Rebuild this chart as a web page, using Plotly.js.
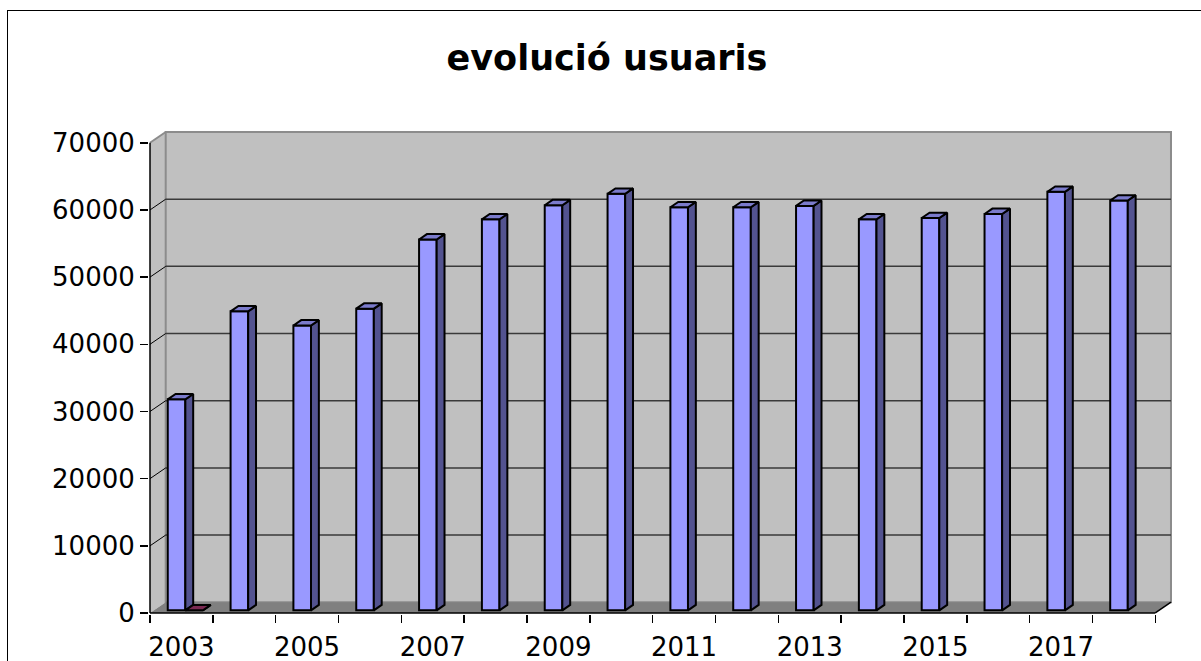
<!DOCTYPE html>
<html>
<head>
<meta charset="utf-8">
<script src="https://cdn.plot.ly/plotly-3.0.1.min.js"></script>
<style>
  html, body { margin: 0; padding: 0; background: #ffffff; overflow: hidden; }
  #wrap { position: relative; width: 1201px; height: 661px; overflow: hidden; }
  #chart { position: absolute; left: 0; top: 0; width: 1201px; height: 661px; }
  #frame { position: absolute; left: 7px; top: 10px; width: 1300px; height: 800px;
           border-left: 1.5px solid #000; border-top: 1.5px solid #000; pointer-events: none; }
</style>
</head>
<body>
<div id="wrap">
  <div id="chart"></div>
  <div id="frame"></div>
</div>
<script>
// ---- data ----
const years = ['2003','2004','2005','2006','2007','2008','2009','2010','2011','2012','2013','2014','2015','2016','2017','2018'];
const usuaris = [31400, 44500, 42400, 44900, 55200, 58200, 60300, 62000, 60000, 60000, 60200, 58200, 58400, 59000, 62300, 61000];
const serie2 = [0, null, null, null, null, null, null, null, null, null, null, null, null, null, null, null];
const yTickValues = [0, 10000, 20000, 30000, 40000, 50000, 60000, 70000];
const yTickLabels = ['0', '10000', '20000', '30000', '40000', '50000', '60000', '70000'];
const xTickLabels = ['2003', '2005', '2007', '2009', '2011', '2013', '2015', '2017'];

// ---- 3D look geometry (in axis units) ----
const DX = 0.25;      // wall depth, category units
const DY = 1600;      // wall depth, value units
const F0 = 0.25;      // bar front depth fraction
const F1 = 0.75;      // bar back depth fraction
const BARW = 0.28;    // bar width per series
const YMAX = 70000;
const nCat = years.length;
const xIdx = years.map((_, i) => i);
const xShift = xIdx.map(i => i + F0 * DX);
const baseVal = F0 * DY;
const bdx = (F1 - F0) * DX, bdy = (F1 - F0) * DY;

const xL = -0.5, xR = nCat - 0.5;

// ---- walls / floor / grid as shapes ----
const shapes = [];
const wallGrey = '#C0C0C0', floorGrey = '#808080', edgeGrey = '#8C8C8C';
shapes.push({type:'path', layer:'below', xref:'x', yref:'y',
  path:`M ${xL},0 L ${xL+DX},${DY} L ${xL+DX},${YMAX+DY} L ${xL},${YMAX} Z`,
  fillcolor: wallGrey, line:{width:0}});
shapes.push({type:'rect', layer:'below', xref:'x', yref:'y',
  x0: xL+DX, x1: xR+DX, y0: DY, y1: YMAX+DY,
  fillcolor: wallGrey, line:{color: edgeGrey, width: 2}});
shapes.push({type:'path', layer:'below', xref:'x', yref:'y',
  path:`M ${xL},0 L ${xR},0 L ${xR+DX},${DY} L ${xL+DX},${DY} Z`,
  fillcolor: floorGrey, line:{width:0}});
shapes.push({type:'line', layer:'below', xref:'x', yref:'y',
  x0: xL, y0: YMAX, x1: xL+DX, y1: YMAX+DY, line:{color: edgeGrey, width: 2}});
yTickValues.forEach(v => {
  if (v === 0 || v === YMAX) return;
  shapes.push({type:'line', layer:'below', xref:'x', yref:'y',
    x0: xL+DX, y0: v+DY, x1: xR+DX, y1: v+DY, line:{color:'#3a3a3a', width:1.5}});
  shapes.push({type:'line', layer:'below', xref:'x', yref:'y',
    x0: xL, y0: v, x1: xL+DX, y1: v+DY, line:{color:'#000000', width:1}});
});
shapes.push({type:'line', layer:'below', xref:'x', yref:'y',
  x0: xL, y0: 0, x1: xL, y1: YMAX, line:{color:'#000', width:1.5}});
shapes.push({type:'line', layer:'below', xref:'x', yref:'y',
  x0: xL, y0: 0, x1: xR, y1: 0, line:{color:'#000', width:1.5}});
shapes.push({type:'line', layer:'below', xref:'x', yref:'y',
  x0: xR, y0: 0, x1: xR+DX, y1: DY, line:{color:'#000', width:1.5}});

// ---- bar faces built from the data ----
function faces(values, offset) {
  const top = {x: [], y: []}, side = {x: [], y: []};
  values.forEach((v, i) => {
    if (v === null || v === undefined) return;
    const xl = i + F0 * DX + offset - BARW / 2, xr = xl + BARW;
    const yb = baseVal, yt = baseVal + v;
    top.x.push(xl, xr, xr + bdx, xl + bdx, xl, null);
    top.y.push(yt, yt, yt + bdy, yt + bdy, yt, null);
    side.x.push(xr, xr + bdx, xr + bdx, xr, xr, null);
    side.y.push(yb, yb + bdy, yt + bdy, yt, yb, null);
  });
  return {top, side};
}
const fA = faces(usuaris, -BARW / 2);
const fB = faces(serie2, BARW / 2);

const outline = {color:'#000', width:2};
const traces = [
  {type:'bar', x: xShift, y: usuaris, base: baseVal, name:'usuaris',
   marker:{color:'#9999FF', line: outline}, hoverinfo:'skip'},
  {type:'bar', x: xShift, y: serie2, base: baseVal, name:'serie 2',
   marker:{color:'#993366', line: outline}, hoverinfo:'skip'},
  {type:'scatter', mode:'lines', x: fA.side.x, y: fA.side.y, fill:'toself',
   fillcolor:'#535390', line: outline, hoverinfo:'skip'},
  {type:'scatter', mode:'lines', x: fA.top.x, y: fA.top.y, fill:'toself',
   fillcolor:'#7B7BCC', line: outline, hoverinfo:'skip'},
  {type:'scatter', mode:'lines', x: fB.side.x, y: fB.side.y, fill:'toself',
   fillcolor:'#5C1F3D', line: outline, hoverinfo:'skip'},
  {type:'scatter', mode:'lines', x: fB.top.x, y: fB.top.y, fill:'toself',
   fillcolor:'#7A2952', line: outline, hoverinfo:'skip'}
];

const boundaries = [];
for (let i = 0; i <= nCat; i++) boundaries.push(i - 0.5);
const xTickVals = xTickLabels.map(t => years.indexOf(t));

const layout = {
  width: 1201, height: 661,
  margin: {l: 149, r: 28, t: 130, b: 47},
  paper_bgcolor: 'rgba(0,0,0,0)', plot_bgcolor: 'rgba(0,0,0,0)',
  showlegend: false,
  barmode: 'group', bargap: 0.44, bargroupgap: 0,
  font: {family: 'DejaVu Sans', color: '#000'},
  title: {text: 'evolució usuaris', font: {family: 'DejaVu Sans', size: 35, weight: 'bold', color: '#000'},
          xref: 'container', x: 607 / 1201, xanchor: 'center',
          yref: 'container', y: 1 - 57.5 / 661, yanchor: 'middle'},
  xaxis: {range: [-0.5159, 15.782], showgrid: false, zeroline: false, showline: false,
          tickmode: 'array', tickvals: xTickVals, ticktext: xTickLabels, ticks: '',
          ticklabelstandoff: 15,
          tickfont: {family: 'DejaVu Sans', size: 26, color: '#000'},
          minor: {tickmode: 'array', tickvals: boundaries, ticks: 'outside', ticklen: 8,
                  tickwidth: 1.5, tickcolor: '#000', showgrid: false},
          fixedrange: true},
  yaxis: {range: [-150, 71900], showgrid: false, zeroline: false, showline: false,
          tickmode: 'array', tickvals: yTickValues, ticktext: yTickLabels,
          ticks: 'outside', ticklen: 8,
          tickwidth: 1.5, tickcolor: '#000', ticklabelstandoff: 0,
          tickfont: {family: 'DejaVu Sans', size: 26, color: '#000'},
          fixedrange: true},
  shapes: shapes
};

Plotly.newPlot('chart', traces, layout, {staticPlot: true, displayModeBar: false});
</script>
</body>
</html>
